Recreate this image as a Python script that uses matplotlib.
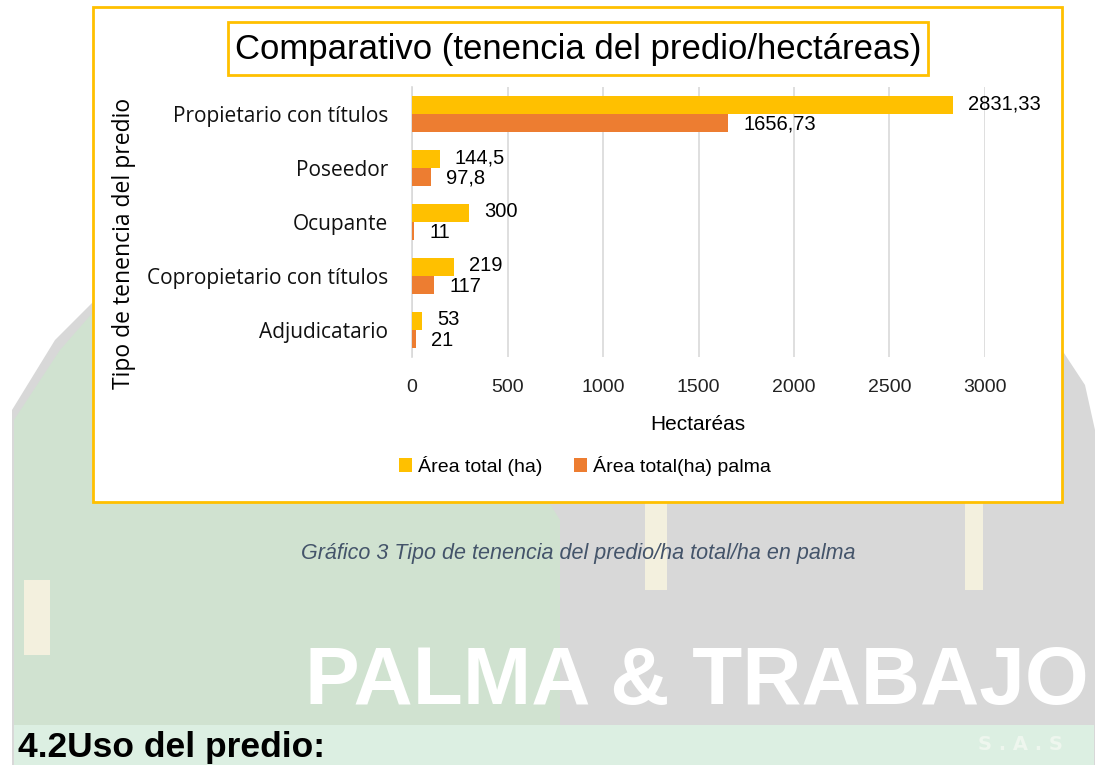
import matplotlib.pyplot as plt
import matplotlib.patches as mpatches
from matplotlib import font_manager

# data
categories = ["Propietario con títulos", "Poseedor", "Ocupante",
              "Copropietario con títulos", "Adjudicatario"]
area_total = [2831.33, 144.5, 300, 219, 53]
area_palma = [1656.73, 97.8, 11, 117, 21]
series_names = ["Área total (ha)", "Área total(ha) palma"]
x_ticks = [0, 500, 1000, 1500, 2000, 2500, 3000]

names = {f.name for f in font_manager.fontManager.ttflist}
narrow = "Liberation Sans Narrow" if "Liberation Sans Narrow" in names else "Liberation Sans"

W, H = 1102, 767
fig = plt.figure(figsize=(W / 100, H / 100), dpi=100)

# background (page + watermark)
bg = fig.add_axes([0, 0, 1, 1], zorder=-10)
bg.set_xlim(0, W)
bg.set_ylim(H, 0)
bg.axis("off")
gray = mpatches.Polygon([(12, 765), (12, 410), (55, 340), (95, 300), (1062, 300),
                         (1062, 350), (1085, 385), (1095, 430), (1095, 765)],
                        closed=True, fc="#d8d8d8", ec="none")
bg.add_patch(gray)
green = mpatches.Polygon([(14, 765), (14, 420), (60, 350), (95, 310), (430, 310),
                          (560, 520), (560, 765)],
                         closed=True, fc="#d0e2d0", ec="none")
bg.add_patch(green)
bg.add_patch(mpatches.Rectangle((14, 725), 1080, 40, fc="#dcefe2", ec="none"))
for (x0, y0, w, h) in [(24, 580, 26, 75), (965, 500, 18, 90), (645, 500, 22, 90)]:
    bg.add_patch(mpatches.Rectangle((x0, y0), w, h, fc="#f3f0de", ec="none"))
bg.text(697, 683, "PALMA & TRABAJO", ha="center", va="center", fontsize=59,
        fontweight="bold", family=narrow, color="white")
bg.text(1020, 745, "S . A . S", ha="center", va="center", fontsize=14,
        fontweight="bold", color="#eef6ee")

# chart frame and title box
bg.add_patch(mpatches.Rectangle((93, 7), 969, 495, fc="white", ec="#FFC000", lw=2))
bg.add_patch(mpatches.Rectangle((228, 22), 700, 53, fc="white", ec="#FFC000", lw=2))
bg.text(578, 49, "Comparativo (tenencia del predio/hectáreas)", ha="center", va="center",
        fontsize=25, family=narrow, color="black")

# bars
ax = fig.add_axes([412 / W, 1 - 357 / H, (985 - 412) / W, (357 - 87) / H])
ax.set_facecolor("none")
pos = list(range(len(categories)))
h = 0.333
ax.barh([p - h / 2 for p in pos], area_total, height=h, color="#FFC000", zorder=3,
        label=series_names[0])
ax.barh([p + h / 2 for p in pos], area_palma, height=h, color="#ED7D31", zorder=3,
        label=series_names[1])
for p, v in zip(pos, area_total):
    ax.annotate(f"{v:g}".replace(".", ","), (v, p - h / 2), xytext=(11, 1),
                textcoords="offset points", va="center", ha="left", fontsize=14.5,
                family=narrow, color="black")
for p, v in zip(pos, area_palma):
    ax.annotate(f"{v:g}".replace(".", ","), (v, p + h / 2), xytext=(11, -1),
                textcoords="offset points", va="center", ha="left", fontsize=14.5,
                family=narrow, color="black")

ax.set_xlim(0, 3000)
ax.set_ylim(len(categories) - 0.5, -0.5)
ax.set_xticks(x_ticks)
ax.set_xticklabels([str(t) for t in x_ticks], family=narrow, fontsize=14, color="#222222")
ax.set_yticks(pos)
ax.set_yticklabels(categories, family="Open Sans", fontsize=15, color="#111111")
ax.tick_params(axis="x", length=0, pad=16)
ax.tick_params(axis="y", length=0, pad=17)
ax.xaxis.grid(True, color="#d9d9d9", lw=1.2, zorder=0)
for s in ["top", "right", "bottom"]:
    ax.spines[s].set_visible(False)
ax.spines["left"].set_color("#d9d9d9")
ax.spines["left"].set_linewidth(1.2)
ax.set_axisbelow(True)

fig.text(698 / W, 1 - 424 / H, "Hectaréas", ha="center", va="center",
         fontsize=15, family=narrow)
fig.text(124 / W, 1 - 243 / H, "Tipo de tenencia del predio", ha="center", va="center",
         rotation=90, fontsize=16.5, family="Open Sans")
fig.legend(loc="center", bbox_to_anchor=(585 / W, 1 - 466 / H), ncol=2, frameon=False,
           prop={"family": narrow, "size": 14}, handlelength=0.7, handleheight=0.7,
           handletextpad=0.3, columnspacing=1.6)

# caption and heading
fig.text(578 / W, 1 - 553 / H, "Gráfico 3 Tipo de tenencia del predio/ha total/ha en palma",
         ha="center", va="center", fontsize=15.5, style="italic", family=narrow,
         color="#44546A")
fig.text(18 / W, 1 - 748 / H, "4.2Uso del predio:", ha="left", va="center",
         fontsize=25.5, fontweight="bold", family="Liberation Sans", color="black")

fig.savefig("out.png", dpi=100)
